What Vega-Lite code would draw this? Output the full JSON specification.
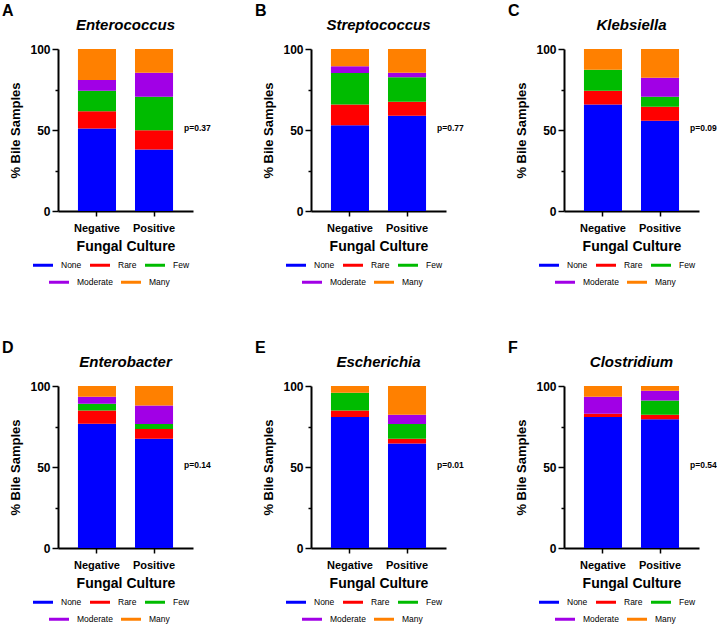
{
  "$schema": "https://vega.github.io/schema/vega-lite/v6.json",
  "padding": {"left": 1, "top": 3, "right": 0, "bottom": 0},
  "background": "white",
  "columns": 3,
  "spacing": {"row": 53, "column": 43},
  "resolve": {"scale": {"color": "independent"}, "legend": {"color": "independent"}},
  "datasets": {
    "bars": [
      {"panel": "A", "culture": "Negative", "level": "None", "ord": 1, "pct": 50.9},
      {"panel": "A", "culture": "Negative", "level": "Rare", "ord": 2, "pct": 10.7},
      {"panel": "A", "culture": "Negative", "level": "Few", "ord": 3, "pct": 12.6},
      {"panel": "A", "culture": "Negative", "level": "Moderate", "ord": 4, "pct": 6.6},
      {"panel": "A", "culture": "Negative", "level": "Many", "ord": 5, "pct": 19.2},
      {"panel": "A", "culture": "Positive", "level": "None", "ord": 1, "pct": 37.9},
      {"panel": "A", "culture": "Positive", "level": "Rare", "ord": 2, "pct": 12.0},
      {"panel": "A", "culture": "Positive", "level": "Few", "ord": 3, "pct": 20.6},
      {"panel": "A", "culture": "Positive", "level": "Moderate", "ord": 4, "pct": 14.9},
      {"panel": "A", "culture": "Positive", "level": "Many", "ord": 5, "pct": 14.6},
      {"panel": "B", "culture": "Negative", "level": "None", "ord": 1, "pct": 53.0},
      {"panel": "B", "culture": "Negative", "level": "Rare", "ord": 2, "pct": 12.8},
      {"panel": "B", "culture": "Negative", "level": "Few", "ord": 3, "pct": 19.4},
      {"panel": "B", "culture": "Negative", "level": "Moderate", "ord": 4, "pct": 4.1},
      {"panel": "B", "culture": "Negative", "level": "Many", "ord": 5, "pct": 10.7},
      {"panel": "B", "culture": "Positive", "level": "None", "ord": 1, "pct": 58.8},
      {"panel": "B", "culture": "Positive", "level": "Rare", "ord": 2, "pct": 8.6},
      {"panel": "B", "culture": "Positive", "level": "Few", "ord": 3, "pct": 15.1},
      {"panel": "B", "culture": "Positive", "level": "Moderate", "ord": 4, "pct": 2.9},
      {"panel": "B", "culture": "Positive", "level": "Many", "ord": 5, "pct": 14.6},
      {"panel": "C", "culture": "Negative", "level": "None", "ord": 1, "pct": 65.8},
      {"panel": "C", "culture": "Negative", "level": "Rare", "ord": 2, "pct": 8.4},
      {"panel": "C", "culture": "Negative", "level": "Few", "ord": 3, "pct": 13.0},
      {"panel": "C", "culture": "Negative", "level": "Moderate", "ord": 4, "pct": 0},
      {"panel": "C", "culture": "Negative", "level": "Many", "ord": 5, "pct": 12.8},
      {"panel": "C", "culture": "Positive", "level": "None", "ord": 1, "pct": 55.7},
      {"panel": "C", "culture": "Positive", "level": "Rare", "ord": 2, "pct": 8.6},
      {"panel": "C", "culture": "Positive", "level": "Few", "ord": 3, "pct": 6.2},
      {"panel": "C", "culture": "Positive", "level": "Moderate", "ord": 4, "pct": 11.8},
      {"panel": "C", "culture": "Positive", "level": "Many", "ord": 5, "pct": 17.7},
      {"panel": "D", "culture": "Negative", "level": "None", "ord": 1, "pct": 76.7},
      {"panel": "D", "culture": "Negative", "level": "Rare", "ord": 2, "pct": 8.2},
      {"panel": "D", "culture": "Negative", "level": "Few", "ord": 3, "pct": 4.2},
      {"panel": "D", "culture": "Negative", "level": "Moderate", "ord": 4, "pct": 4.3},
      {"panel": "D", "culture": "Negative", "level": "Many", "ord": 5, "pct": 6.6},
      {"panel": "D", "culture": "Positive", "level": "None", "ord": 1, "pct": 67.4},
      {"panel": "D", "culture": "Positive", "level": "Rare", "ord": 2, "pct": 6.0},
      {"panel": "D", "culture": "Positive", "level": "Few", "ord": 3, "pct": 3.1},
      {"panel": "D", "culture": "Positive", "level": "Moderate", "ord": 4, "pct": 11.5},
      {"panel": "D", "culture": "Positive", "level": "Many", "ord": 5, "pct": 12.0},
      {"panel": "E", "culture": "Negative", "level": "None", "ord": 1, "pct": 80.8},
      {"panel": "E", "culture": "Negative", "level": "Rare", "ord": 2, "pct": 4.1},
      {"panel": "E", "culture": "Negative", "level": "Few", "ord": 3, "pct": 11.0},
      {"panel": "E", "culture": "Negative", "level": "Moderate", "ord": 4, "pct": 0},
      {"panel": "E", "culture": "Negative", "level": "Many", "ord": 5, "pct": 4.1},
      {"panel": "E", "culture": "Positive", "level": "None", "ord": 1, "pct": 64.5},
      {"panel": "E", "culture": "Positive", "level": "Rare", "ord": 2, "pct": 2.9},
      {"panel": "E", "culture": "Positive", "level": "Few", "ord": 3, "pct": 9.1},
      {"panel": "E", "culture": "Positive", "level": "Moderate", "ord": 4, "pct": 5.8},
      {"panel": "E", "culture": "Positive", "level": "Many", "ord": 5, "pct": 17.7},
      {"panel": "F", "culture": "Negative", "level": "None", "ord": 1, "pct": 80.8},
      {"panel": "F", "culture": "Negative", "level": "Rare", "ord": 2, "pct": 2.1},
      {"panel": "F", "culture": "Negative", "level": "Few", "ord": 3, "pct": 0},
      {"panel": "F", "culture": "Negative", "level": "Moderate", "ord": 4, "pct": 10.5},
      {"panel": "F", "culture": "Negative", "level": "Many", "ord": 5, "pct": 6.6},
      {"panel": "F", "culture": "Positive", "level": "None", "ord": 1, "pct": 79.4},
      {"panel": "F", "culture": "Positive", "level": "Rare", "ord": 2, "pct": 2.9},
      {"panel": "F", "culture": "Positive", "level": "Few", "ord": 3, "pct": 8.8},
      {"panel": "F", "culture": "Positive", "level": "Moderate", "ord": 4, "pct": 6.0},
      {"panel": "F", "culture": "Positive", "level": "Many", "ord": 5, "pct": 2.9}
    ],
    "panels": [
      {"panel": "A", "letter": "A", "p": "p=0.37"},
      {"panel": "B", "letter": "B", "p": "p=0.77"},
      {"panel": "C", "letter": "C", "p": "p=0.09"},
      {"panel": "D", "letter": "D", "p": "p=0.14"},
      {"panel": "E", "letter": "E", "p": "p=0.01"},
      {"panel": "F", "letter": "F", "p": "p=0.54"}
    ]
  },
  "concat": [
    {
      "width": 135, "height": 162,
      "title": {"text": "Enterococcus"},
      "resolve": {"scale": {"color": "independent"}},
      "layer": [
        {"data": {"name": "bars"}, "transform": [{"filter": "datum.panel === 'A'"}, {"stack": "pct", "groupby": ["culture"], "sort": [{"field": "ord", "order": "ascending"}], "as": ["y0", "y1"]}, {"filter": "datum.ord <= 3"}], "mark": {"type": "bar"},
         "encoding": {
           "x": {"field": "culture", "type": "nominal", "scale": {"paddingInner": 0.333, "paddingOuter": 0.35}, "axis": {"title": "Fungal Culture"}},
           "y": {"field": "y0", "type": "quantitative", "scale": {"domain": [0, 100], "nice": false}, "axis": {"title": "% Bile Samples", "values": [0, 25, 50, 75, 100], "labelExpr": "datum.value % 50 === 0 ? datum.label : ''", "tickSize": {"condition": {"test": "datum.value % 50 === 0", "value": 6}, "value": 3}}},
           "y2": {"field": "y1"},
           "color": {"field": "level", "type": "nominal", "scale": {"domain": ["None", "Rare", "Few", "Moderate", "Many"], "range": ["#0000FF", "#FF0000", "#00BB00", "#A100E6", "#FF8000"]}, "legend": {"orient": "none", "legendX": -25, "legendY": 206, "values": ["None", "Rare", "Few"]}}
         }},
        {"data": {"name": "bars"}, "transform": [{"filter": "datum.panel === 'A'"}, {"stack": "pct", "groupby": ["culture"], "sort": [{"field": "ord", "order": "ascending"}], "as": ["y0", "y1"]}, {"filter": "datum.ord >= 4"}], "mark": {"type": "bar"},
         "encoding": {
           "x": {"field": "culture", "type": "nominal", "scale": {"paddingInner": 0.333, "paddingOuter": 0.35}, "axis": {"title": "Fungal Culture"}},
           "y": {"field": "y0", "type": "quantitative", "scale": {"domain": [0, 100], "nice": false}, "axis": {"title": "% Bile Samples", "values": [0, 25, 50, 75, 100], "labelExpr": "datum.value % 50 === 0 ? datum.label : ''", "tickSize": {"condition": {"test": "datum.value % 50 === 0", "value": 6}, "value": 3}}},
           "y2": {"field": "y1"},
           "color": {"field": "level", "type": "nominal", "scale": {"domain": ["None", "Rare", "Few", "Moderate", "Many"], "range": ["#0000FF", "#FF0000", "#00BB00", "#A100E6", "#FF8000"]}, "legend": {"orient": "none", "legendX": -9, "legendY": 223, "values": ["Moderate", "Many"]}}
         }},
        {"data": {"name": "panels"}, "transform": [{"filter": "datum.panel === 'A'"}], "mark": {"type": "text", "style": "pval"},
         "encoding": {"x": {"datum": "Positive"}, "y": {"datum": 50}, "text": {"field": "p"}}},
        {"data": {"name": "panels"}, "transform": [{"filter": "datum.panel === 'A'"}], "mark": {"type": "text", "style": "letter"},
         "encoding": {"x": {"datum": "Negative"}, "y": {"datum": 100}, "text": {"field": "letter"}}}
      ]
    },
    {
      "width": 135, "height": 162,
      "title": {"text": "Streptococcus"},
      "resolve": {"scale": {"color": "independent"}},
      "layer": [
        {"data": {"name": "bars"}, "transform": [{"filter": "datum.panel === 'B'"}, {"stack": "pct", "groupby": ["culture"], "sort": [{"field": "ord", "order": "ascending"}], "as": ["y0", "y1"]}, {"filter": "datum.ord <= 3"}], "mark": {"type": "bar"},
         "encoding": {
           "x": {"field": "culture", "type": "nominal", "scale": {"paddingInner": 0.333, "paddingOuter": 0.35}, "axis": {"title": "Fungal Culture"}},
           "y": {"field": "y0", "type": "quantitative", "scale": {"domain": [0, 100], "nice": false}, "axis": {"title": "% Bile Samples", "values": [0, 25, 50, 75, 100], "labelExpr": "datum.value % 50 === 0 ? datum.label : ''", "tickSize": {"condition": {"test": "datum.value % 50 === 0", "value": 6}, "value": 3}}},
           "y2": {"field": "y1"},
           "color": {"field": "level", "type": "nominal", "scale": {"domain": ["None", "Rare", "Few", "Moderate", "Many"], "range": ["#0000FF", "#FF0000", "#00BB00", "#A100E6", "#FF8000"]}, "legend": {"orient": "none", "legendX": -25, "legendY": 206, "values": ["None", "Rare", "Few"]}}
         }},
        {"data": {"name": "bars"}, "transform": [{"filter": "datum.panel === 'B'"}, {"stack": "pct", "groupby": ["culture"], "sort": [{"field": "ord", "order": "ascending"}], "as": ["y0", "y1"]}, {"filter": "datum.ord >= 4"}], "mark": {"type": "bar"},
         "encoding": {
           "x": {"field": "culture", "type": "nominal", "scale": {"paddingInner": 0.333, "paddingOuter": 0.35}, "axis": {"title": "Fungal Culture"}},
           "y": {"field": "y0", "type": "quantitative", "scale": {"domain": [0, 100], "nice": false}, "axis": {"title": "% Bile Samples", "values": [0, 25, 50, 75, 100], "labelExpr": "datum.value % 50 === 0 ? datum.label : ''", "tickSize": {"condition": {"test": "datum.value % 50 === 0", "value": 6}, "value": 3}}},
           "y2": {"field": "y1"},
           "color": {"field": "level", "type": "nominal", "scale": {"domain": ["None", "Rare", "Few", "Moderate", "Many"], "range": ["#0000FF", "#FF0000", "#00BB00", "#A100E6", "#FF8000"]}, "legend": {"orient": "none", "legendX": -9, "legendY": 223, "values": ["Moderate", "Many"]}}
         }},
        {"data": {"name": "panels"}, "transform": [{"filter": "datum.panel === 'B'"}], "mark": {"type": "text", "style": "pval"},
         "encoding": {"x": {"datum": "Positive"}, "y": {"datum": 50}, "text": {"field": "p"}}},
        {"data": {"name": "panels"}, "transform": [{"filter": "datum.panel === 'B'"}], "mark": {"type": "text", "style": "letter"},
         "encoding": {"x": {"datum": "Negative"}, "y": {"datum": 100}, "text": {"field": "letter"}}}
      ]
    },
    {
      "width": 135, "height": 162,
      "title": {"text": "Klebsiella"},
      "resolve": {"scale": {"color": "independent"}},
      "layer": [
        {"data": {"name": "bars"}, "transform": [{"filter": "datum.panel === 'C'"}, {"stack": "pct", "groupby": ["culture"], "sort": [{"field": "ord", "order": "ascending"}], "as": ["y0", "y1"]}, {"filter": "datum.ord <= 3"}], "mark": {"type": "bar"},
         "encoding": {
           "x": {"field": "culture", "type": "nominal", "scale": {"paddingInner": 0.333, "paddingOuter": 0.35}, "axis": {"title": "Fungal Culture"}},
           "y": {"field": "y0", "type": "quantitative", "scale": {"domain": [0, 100], "nice": false}, "axis": {"title": "% Bile Samples", "values": [0, 25, 50, 75, 100], "labelExpr": "datum.value % 50 === 0 ? datum.label : ''", "tickSize": {"condition": {"test": "datum.value % 50 === 0", "value": 6}, "value": 3}}},
           "y2": {"field": "y1"},
           "color": {"field": "level", "type": "nominal", "scale": {"domain": ["None", "Rare", "Few", "Moderate", "Many"], "range": ["#0000FF", "#FF0000", "#00BB00", "#A100E6", "#FF8000"]}, "legend": {"orient": "none", "legendX": -25, "legendY": 206, "values": ["None", "Rare", "Few"]}}
         }},
        {"data": {"name": "bars"}, "transform": [{"filter": "datum.panel === 'C'"}, {"stack": "pct", "groupby": ["culture"], "sort": [{"field": "ord", "order": "ascending"}], "as": ["y0", "y1"]}, {"filter": "datum.ord >= 4"}], "mark": {"type": "bar"},
         "encoding": {
           "x": {"field": "culture", "type": "nominal", "scale": {"paddingInner": 0.333, "paddingOuter": 0.35}, "axis": {"title": "Fungal Culture"}},
           "y": {"field": "y0", "type": "quantitative", "scale": {"domain": [0, 100], "nice": false}, "axis": {"title": "% Bile Samples", "values": [0, 25, 50, 75, 100], "labelExpr": "datum.value % 50 === 0 ? datum.label : ''", "tickSize": {"condition": {"test": "datum.value % 50 === 0", "value": 6}, "value": 3}}},
           "y2": {"field": "y1"},
           "color": {"field": "level", "type": "nominal", "scale": {"domain": ["None", "Rare", "Few", "Moderate", "Many"], "range": ["#0000FF", "#FF0000", "#00BB00", "#A100E6", "#FF8000"]}, "legend": {"orient": "none", "legendX": -9, "legendY": 223, "values": ["Moderate", "Many"]}}
         }},
        {"data": {"name": "panels"}, "transform": [{"filter": "datum.panel === 'C'"}], "mark": {"type": "text", "style": "pval"},
         "encoding": {"x": {"datum": "Positive"}, "y": {"datum": 50}, "text": {"field": "p"}}},
        {"data": {"name": "panels"}, "transform": [{"filter": "datum.panel === 'C'"}], "mark": {"type": "text", "style": "letter"},
         "encoding": {"x": {"datum": "Negative"}, "y": {"datum": 100}, "text": {"field": "letter"}}}
      ]
    },
    {
      "width": 135, "height": 162,
      "title": {"text": "Enterobacter"},
      "resolve": {"scale": {"color": "independent"}},
      "layer": [
        {"data": {"name": "bars"}, "transform": [{"filter": "datum.panel === 'D'"}, {"stack": "pct", "groupby": ["culture"], "sort": [{"field": "ord", "order": "ascending"}], "as": ["y0", "y1"]}, {"filter": "datum.ord <= 3"}], "mark": {"type": "bar"},
         "encoding": {
           "x": {"field": "culture", "type": "nominal", "scale": {"paddingInner": 0.333, "paddingOuter": 0.35}, "axis": {"title": "Fungal Culture"}},
           "y": {"field": "y0", "type": "quantitative", "scale": {"domain": [0, 100], "nice": false}, "axis": {"title": "% Bile Samples", "values": [0, 25, 50, 75, 100], "labelExpr": "datum.value % 50 === 0 ? datum.label : ''", "tickSize": {"condition": {"test": "datum.value % 50 === 0", "value": 6}, "value": 3}}},
           "y2": {"field": "y1"},
           "color": {"field": "level", "type": "nominal", "scale": {"domain": ["None", "Rare", "Few", "Moderate", "Many"], "range": ["#0000FF", "#FF0000", "#00BB00", "#A100E6", "#FF8000"]}, "legend": {"orient": "none", "legendX": -25, "legendY": 206, "values": ["None", "Rare", "Few"]}}
         }},
        {"data": {"name": "bars"}, "transform": [{"filter": "datum.panel === 'D'"}, {"stack": "pct", "groupby": ["culture"], "sort": [{"field": "ord", "order": "ascending"}], "as": ["y0", "y1"]}, {"filter": "datum.ord >= 4"}], "mark": {"type": "bar"},
         "encoding": {
           "x": {"field": "culture", "type": "nominal", "scale": {"paddingInner": 0.333, "paddingOuter": 0.35}, "axis": {"title": "Fungal Culture"}},
           "y": {"field": "y0", "type": "quantitative", "scale": {"domain": [0, 100], "nice": false}, "axis": {"title": "% Bile Samples", "values": [0, 25, 50, 75, 100], "labelExpr": "datum.value % 50 === 0 ? datum.label : ''", "tickSize": {"condition": {"test": "datum.value % 50 === 0", "value": 6}, "value": 3}}},
           "y2": {"field": "y1"},
           "color": {"field": "level", "type": "nominal", "scale": {"domain": ["None", "Rare", "Few", "Moderate", "Many"], "range": ["#0000FF", "#FF0000", "#00BB00", "#A100E6", "#FF8000"]}, "legend": {"orient": "none", "legendX": -9, "legendY": 223, "values": ["Moderate", "Many"]}}
         }},
        {"data": {"name": "panels"}, "transform": [{"filter": "datum.panel === 'D'"}], "mark": {"type": "text", "style": "pval"},
         "encoding": {"x": {"datum": "Positive"}, "y": {"datum": 50}, "text": {"field": "p"}}},
        {"data": {"name": "panels"}, "transform": [{"filter": "datum.panel === 'D'"}], "mark": {"type": "text", "style": "letter"},
         "encoding": {"x": {"datum": "Negative"}, "y": {"datum": 100}, "text": {"field": "letter"}}}
      ]
    },
    {
      "width": 135, "height": 162,
      "title": {"text": "Escherichia"},
      "resolve": {"scale": {"color": "independent"}},
      "layer": [
        {"data": {"name": "bars"}, "transform": [{"filter": "datum.panel === 'E'"}, {"stack": "pct", "groupby": ["culture"], "sort": [{"field": "ord", "order": "ascending"}], "as": ["y0", "y1"]}, {"filter": "datum.ord <= 3"}], "mark": {"type": "bar"},
         "encoding": {
           "x": {"field": "culture", "type": "nominal", "scale": {"paddingInner": 0.333, "paddingOuter": 0.35}, "axis": {"title": "Fungal Culture"}},
           "y": {"field": "y0", "type": "quantitative", "scale": {"domain": [0, 100], "nice": false}, "axis": {"title": "% Bile Samples", "values": [0, 25, 50, 75, 100], "labelExpr": "datum.value % 50 === 0 ? datum.label : ''", "tickSize": {"condition": {"test": "datum.value % 50 === 0", "value": 6}, "value": 3}}},
           "y2": {"field": "y1"},
           "color": {"field": "level", "type": "nominal", "scale": {"domain": ["None", "Rare", "Few", "Moderate", "Many"], "range": ["#0000FF", "#FF0000", "#00BB00", "#A100E6", "#FF8000"]}, "legend": {"orient": "none", "legendX": -25, "legendY": 206, "values": ["None", "Rare", "Few"]}}
         }},
        {"data": {"name": "bars"}, "transform": [{"filter": "datum.panel === 'E'"}, {"stack": "pct", "groupby": ["culture"], "sort": [{"field": "ord", "order": "ascending"}], "as": ["y0", "y1"]}, {"filter": "datum.ord >= 4"}], "mark": {"type": "bar"},
         "encoding": {
           "x": {"field": "culture", "type": "nominal", "scale": {"paddingInner": 0.333, "paddingOuter": 0.35}, "axis": {"title": "Fungal Culture"}},
           "y": {"field": "y0", "type": "quantitative", "scale": {"domain": [0, 100], "nice": false}, "axis": {"title": "% Bile Samples", "values": [0, 25, 50, 75, 100], "labelExpr": "datum.value % 50 === 0 ? datum.label : ''", "tickSize": {"condition": {"test": "datum.value % 50 === 0", "value": 6}, "value": 3}}},
           "y2": {"field": "y1"},
           "color": {"field": "level", "type": "nominal", "scale": {"domain": ["None", "Rare", "Few", "Moderate", "Many"], "range": ["#0000FF", "#FF0000", "#00BB00", "#A100E6", "#FF8000"]}, "legend": {"orient": "none", "legendX": -9, "legendY": 223, "values": ["Moderate", "Many"]}}
         }},
        {"data": {"name": "panels"}, "transform": [{"filter": "datum.panel === 'E'"}], "mark": {"type": "text", "style": "pval"},
         "encoding": {"x": {"datum": "Positive"}, "y": {"datum": 50}, "text": {"field": "p"}}},
        {"data": {"name": "panels"}, "transform": [{"filter": "datum.panel === 'E'"}], "mark": {"type": "text", "style": "letter"},
         "encoding": {"x": {"datum": "Negative"}, "y": {"datum": 100}, "text": {"field": "letter"}}}
      ]
    },
    {
      "width": 135, "height": 162,
      "title": {"text": "Clostridium"},
      "resolve": {"scale": {"color": "independent"}},
      "layer": [
        {"data": {"name": "bars"}, "transform": [{"filter": "datum.panel === 'F'"}, {"stack": "pct", "groupby": ["culture"], "sort": [{"field": "ord", "order": "ascending"}], "as": ["y0", "y1"]}, {"filter": "datum.ord <= 3"}], "mark": {"type": "bar"},
         "encoding": {
           "x": {"field": "culture", "type": "nominal", "scale": {"paddingInner": 0.333, "paddingOuter": 0.35}, "axis": {"title": "Fungal Culture"}},
           "y": {"field": "y0", "type": "quantitative", "scale": {"domain": [0, 100], "nice": false}, "axis": {"title": "% Bile Samples", "values": [0, 25, 50, 75, 100], "labelExpr": "datum.value % 50 === 0 ? datum.label : ''", "tickSize": {"condition": {"test": "datum.value % 50 === 0", "value": 6}, "value": 3}}},
           "y2": {"field": "y1"},
           "color": {"field": "level", "type": "nominal", "scale": {"domain": ["None", "Rare", "Few", "Moderate", "Many"], "range": ["#0000FF", "#FF0000", "#00BB00", "#A100E6", "#FF8000"]}, "legend": {"orient": "none", "legendX": -25, "legendY": 206, "values": ["None", "Rare", "Few"]}}
         }},
        {"data": {"name": "bars"}, "transform": [{"filter": "datum.panel === 'F'"}, {"stack": "pct", "groupby": ["culture"], "sort": [{"field": "ord", "order": "ascending"}], "as": ["y0", "y1"]}, {"filter": "datum.ord >= 4"}], "mark": {"type": "bar"},
         "encoding": {
           "x": {"field": "culture", "type": "nominal", "scale": {"paddingInner": 0.333, "paddingOuter": 0.35}, "axis": {"title": "Fungal Culture"}},
           "y": {"field": "y0", "type": "quantitative", "scale": {"domain": [0, 100], "nice": false}, "axis": {"title": "% Bile Samples", "values": [0, 25, 50, 75, 100], "labelExpr": "datum.value % 50 === 0 ? datum.label : ''", "tickSize": {"condition": {"test": "datum.value % 50 === 0", "value": 6}, "value": 3}}},
           "y2": {"field": "y1"},
           "color": {"field": "level", "type": "nominal", "scale": {"domain": ["None", "Rare", "Few", "Moderate", "Many"], "range": ["#0000FF", "#FF0000", "#00BB00", "#A100E6", "#FF8000"]}, "legend": {"orient": "none", "legendX": -9, "legendY": 223, "values": ["Moderate", "Many"]}}
         }},
        {"data": {"name": "panels"}, "transform": [{"filter": "datum.panel === 'F'"}], "mark": {"type": "text", "style": "pval"},
         "encoding": {"x": {"datum": "Positive"}, "y": {"datum": 50}, "text": {"field": "p"}}},
        {"data": {"name": "panels"}, "transform": [{"filter": "datum.panel === 'F'"}], "mark": {"type": "text", "style": "letter"},
         "encoding": {"x": {"datum": "Negative"}, "y": {"datum": 100}, "text": {"field": "letter"}}}
      ]
    }
  ],
  "config": {
    "font": "Liberation Sans",
    "view": {"stroke": null},
    "title": {"font": "Liberation Sans", "fontSize": 15, "fontWeight": "bold", "fontStyle": "italic", "color": "black", "anchor": "middle", "frame": "group", "baseline": "alphabetic", "offset": -30},
    "style": {
      "pval": {"font": "Liberation Sans", "fontSize": 8.5, "fontWeight": "bold", "align": "left", "baseline": "middle", "dx": 30, "dy": -2, "fill": "black"},
      "letter": {"font": "Liberation Sans", "fontSize": 16, "fontWeight": "bold", "align": "left", "baseline": "alphabetic", "dx": -95, "dy": -33, "fill": "black"}
    },
    "axis": {
      "domainColor": "black", "domainWidth": 2, "tickColor": "black", "tickWidth": 1.5, "grid": false,
      "labelFont": "Liberation Sans", "labelFontWeight": "bold", "labelColor": "black",
      "titleFont": "Liberation Sans", "titleFontWeight": "bold", "titleColor": "black"
    },
    "axisX": {"labelAngle": 0, "labelFontSize": 11, "tickSize": 5, "labelPadding": 6, "titleFontSize": 14, "titlePadding": 6},
    "axisY": {"labelFontSize": 12, "labelPadding": 2, "titleFontSize": 13, "titlePadding": 7},
    "legend": {
      "title": null, "direction": "horizontal",
      "symbolType": "M-1,-0.15H1V0.15H-1Z", "symbolSize": 400, "symbolStrokeWidth": 0,
      "labelFont": "Liberation Sans", "labelFontSize": 8.5, "labelColor": "black", "labelOffset": 8,
      "columnPadding": 8, "padding": 0
    }
  }
}
